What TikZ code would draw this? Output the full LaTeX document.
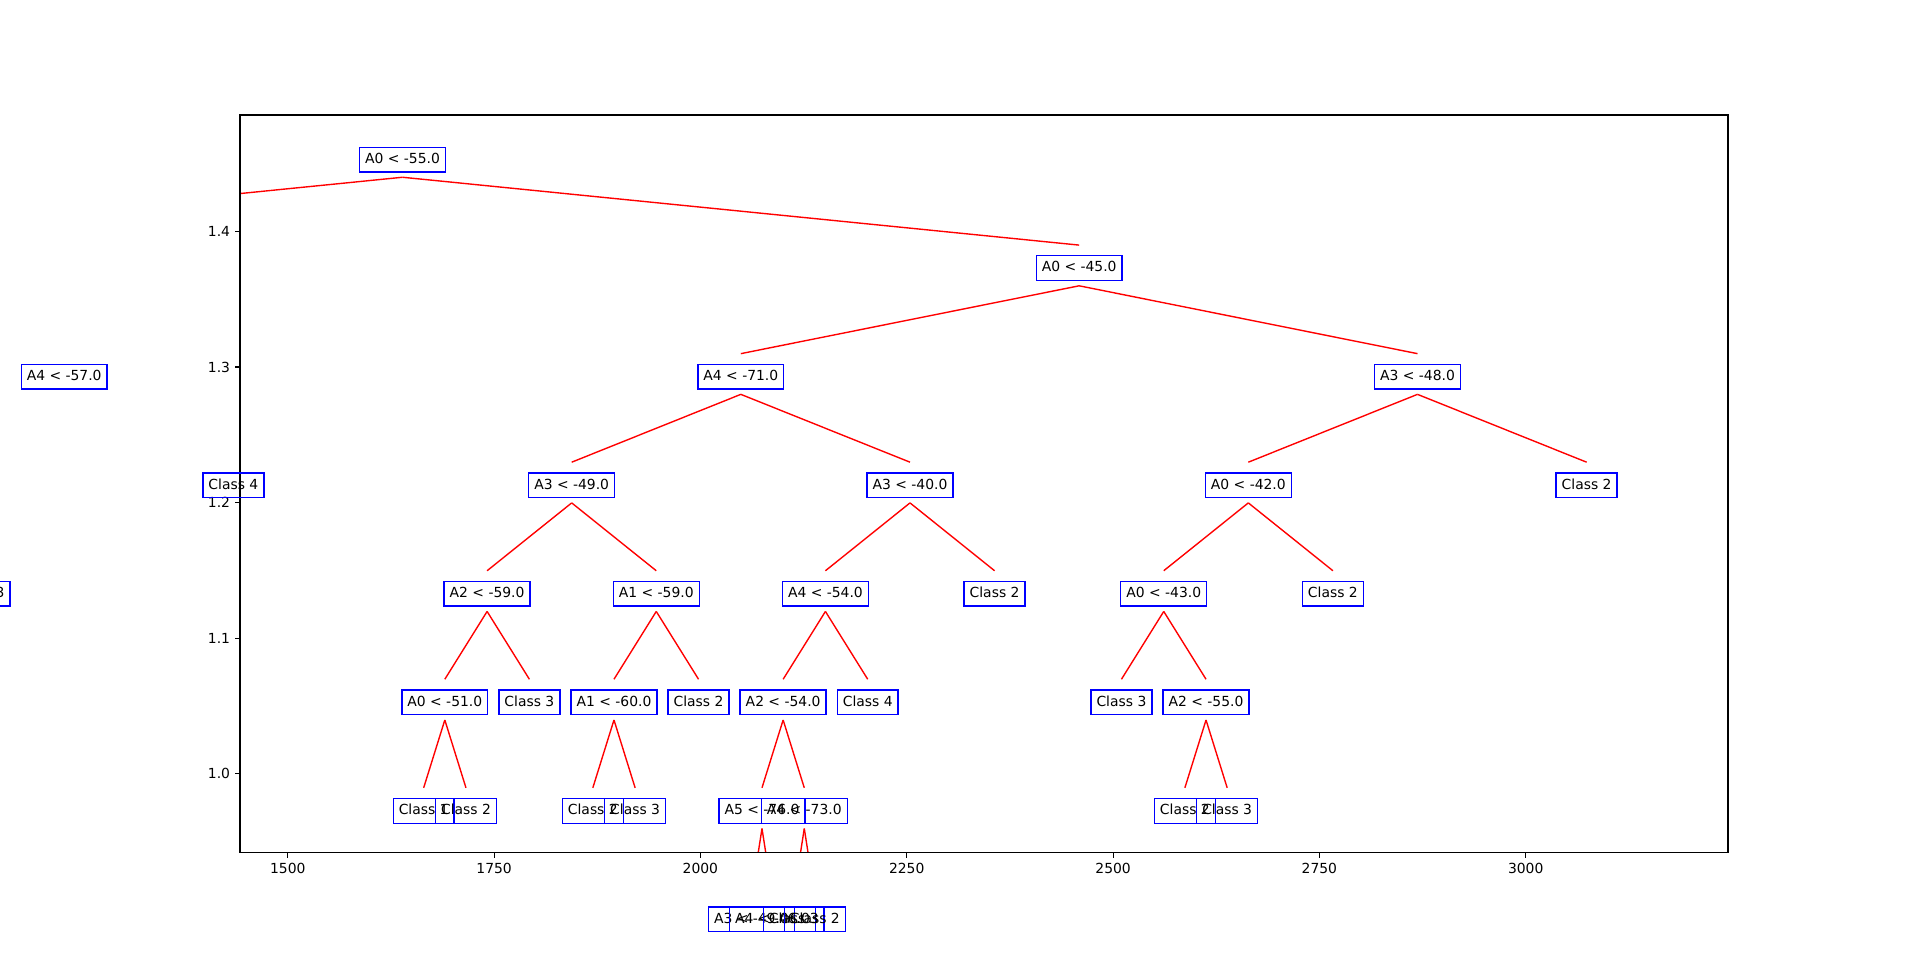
\documentclass[tikz,border=0pt]{standalone}
\usepackage{fontspec}
\setmainfont{DejaVu Sans}
\begin{document}
\begin{tikzpicture}[x=0.01in,y=-0.01in,
  lbl/.style={draw=blue, line width=1bp, font=\fontsize{10bp}{12bp}\selectfont,
    inner xsep=4bp, inner ysep=3bp, text height=8.6bp, text depth=3.2bp},
  edge/.style={draw=red, line width=1bp},
  axisline/.style={draw=black, line width=0.8bp},
  ticklbl/.style={font=\fontsize{10bp}{12bp}\selectfont, inner sep=0pt}]
\clip (0,0) rectangle (1920,958);
\fill[white] (0,0) rectangle (1920,958);

\begin{scope}[x=0.008253in, y=13.56in, shift={(-9.502in,-21.298in)}]
% apex coordinates
\coordinate (a0) at (1638.4,1.44);
\coordinate (aL) at (819.2,1.36);
\coordinate (a1) at (2457.6,1.36);
\coordinate (a2b) at (2048,1.28);
\coordinate (a2c) at (2867.2,1.28);
\coordinate (a3b) at (1843.2,1.20);
\coordinate (a3c) at (2252.8,1.20);
\coordinate (a3d) at (2662.4,1.20);
\coordinate (a4b) at (1740.8,1.12);
\coordinate (a4c) at (1945.6,1.12);
\coordinate (a4d) at (2150.4,1.12);
\coordinate (a4f) at (2560,1.12);
\coordinate (a5a) at (1689.6,1.04);
\coordinate (a5c) at (1894.4,1.04);
\coordinate (a5e) at (2099.2,1.04);
\coordinate (a5h) at (2611.2,1.04);
\coordinate (a6e) at (2073.6,0.96);
\coordinate (a6f) at (2124.8,0.96);
% edge end coordinates
\coordinate (eL) at (819.2,1.39);
\coordinate (e1) at (2457.6,1.39);
\coordinate (e2b) at (2048,1.31);
\coordinate (e2c) at (2867.2,1.31);
\coordinate (e3b) at (1843.2,1.23);
\coordinate (e3c) at (2252.8,1.23);
\coordinate (e3d) at (2662.4,1.23);
\coordinate (e3e) at (3072,1.23);
\coordinate (e4b) at (1740.8,1.15);
\coordinate (e4c) at (1945.6,1.15);
\coordinate (e4d) at (2150.4,1.15);
\coordinate (e4e) at (2355.2,1.15);
\coordinate (e4f) at (2560,1.15);
\coordinate (e4g) at (2764.8,1.15);
\coordinate (e5a) at (1689.6,1.07);
\coordinate (e5b) at (1792,1.07);
\coordinate (e5c) at (1894.4,1.07);
\coordinate (e5d) at (1996.8,1.07);
\coordinate (e5e) at (2099.2,1.07);
\coordinate (e5f) at (2201.6,1.07);
\coordinate (e5g) at (2508.8,1.07);
\coordinate (e5h) at (2611.2,1.07);
\coordinate (e6a) at (1664,0.99);
\coordinate (e6b) at (1715.2,0.99);
\coordinate (e6c) at (1868.8,0.99);
\coordinate (e6d) at (1920,0.99);
\coordinate (e6e) at (2073.6,0.99);
\coordinate (e6f) at (2124.8,0.99);
\coordinate (e6g) at (2585.6,0.99);
\coordinate (e6h) at (2636.8,0.99);
\coordinate (e7a) at (2060.8,0.91);
\coordinate (e7b) at (2086.4,0.91);
\coordinate (e7c) at (2112,0.91);
\coordinate (e7d) at (2137.6,0.91);
\end{scope}

% edges, clipped to the axes
\begin{scope}
\clip (240,115) rectangle (1728,852.6);
\draw[edge] (a0) -- (eL);
\draw[edge] (a0) -- (e1);
\draw[edge] (a1) -- (e2b);
\draw[edge] (a1) -- (e2c);
\draw[edge] (a2b) -- (e3b);
\draw[edge] (a2b) -- (e3c);
\draw[edge] (a2c) -- (e3d);
\draw[edge] (a2c) -- (e3e);
\draw[edge] (a3b) -- (e4b);
\draw[edge] (a3b) -- (e4c);
\draw[edge] (a3c) -- (e4d);
\draw[edge] (a3c) -- (e4e);
\draw[edge] (a3d) -- (e4f);
\draw[edge] (a3d) -- (e4g);
\draw[edge] (a4b) -- (e5a);
\draw[edge] (a4b) -- (e5b);
\draw[edge] (a4c) -- (e5c);
\draw[edge] (a4c) -- (e5d);
\draw[edge] (a4d) -- (e5e);
\draw[edge] (a4d) -- (e5f);
\draw[edge] (a4f) -- (e5g);
\draw[edge] (a4f) -- (e5h);
\draw[edge] (a5a) -- (e6a);
\draw[edge] (a5a) -- (e6b);
\draw[edge] (a5c) -- (e6c);
\draw[edge] (a5c) -- (e6d);
\draw[edge] (a5e) -- (e6e);
\draw[edge] (a5e) -- (e6f);
\draw[edge] (a5h) -- (e6g);
\draw[edge] (a5h) -- (e6h);
\draw[edge] (a6e) -- (e7a);
\draw[edge] (a6e) -- (e7b);
\draw[edge] (a6f) -- (e7c);
\draw[edge] (a6f) -- (e7d);
\end{scope}

% axes frame and ticks
\draw[axisline] (240,115) rectangle (1728,852.6);
\foreach \v/\p in {1500/287.8, 1750/494.1, 2000/700.4, 2250/906.7, 2500/1113.1, 2750/1319.4, 3000/1525.7}{
  \draw[axisline] (\p,852.6) -- (\p,857.5);
  \node[ticklbl, anchor=north] at (\p,862.4) {\v};
}
\foreach \v/\p in {1.0/773.9, 1.1/638.3, 1.2/502.6, 1.3/367.0, 1.4/231.4}{
  \draw[axisline] (240,\p) -- (235.1,\p);
  \node[ticklbl, anchor=east] at (230.3,\p) {\v};
}

% labels
\begin{scope}[x=0.008253in, y=13.56in, shift={(-9.502in,-21.298in)}]
\node[lbl] (n0) at (1638.4,1.453) {A0 < -55.0};
\node[lbl] (n1) at (2457.6,1.373) {A0 < -45.0};
\node[lbl] (n2a) at (1228.8,1.293) {A4 < -57.0};
\node[lbl] (n2b) at (2048,1.293) {A4 < -71.0};
\node[lbl] (n2c) at (2867.2,1.293) {A3 < -48.0};
\node[lbl] (n3a) at (1433.6,1.213) {Class 4};
\node[lbl] (n3b) at (1843.2,1.213) {A3 < -49.0};
\node[lbl] (n3c) at (2252.8,1.213) {A3 < -40.0};
\node[lbl] (n3d) at (2662.4,1.213) {A0 < -42.0};
\node[lbl] (n3e) at (3072,1.213) {Class 2};
\node[lbl] (n4a) at (1126.4,1.133) {Class 3};
\node[lbl] (n4b) at (1740.8,1.133) {A2 < -59.0};
\node[lbl] (n4c) at (1945.6,1.133) {A1 < -59.0};
\node[lbl] (n4d) at (2150.4,1.133) {A4 < -54.0};
\node[lbl] (n4e) at (2355.2,1.133) {Class 2};
\node[lbl] (n4f) at (2560,1.133) {A0 < -43.0};
\node[lbl] (n4g) at (2764.8,1.133) {Class 2};
\node[lbl] (n5a) at (1689.6,1.053) {A0 < -51.0};
\node[lbl] (n5b) at (1792,1.053) {Class 3};
\node[lbl] (n5c) at (1894.4,1.053) {A1 < -60.0};
\node[lbl] (n5d) at (1996.8,1.053) {Class 2};
\node[lbl] (n5e) at (2099.2,1.053) {A2 < -54.0};
\node[lbl] (n5f) at (2201.6,1.053) {Class 4};
\node[lbl] (n5g) at (2508.8,1.053) {Class 3};
\node[lbl] (n5h) at (2611.2,1.053) {A2 < -55.0};
\node[lbl] (n6a) at (1664,0.973) {Class 1};
\node[lbl] (n6b) at (1715.2,0.973) {Class 2};
\node[lbl] (n6c) at (1868.8,0.973) {Class 2};
\node[lbl] (n6d) at (1920,0.973) {Class 3};
\node[lbl] (n6e) at (2073.6,0.973) {A5 < -76.0};
\node[lbl] (n6f) at (2124.8,0.973) {A4 < -73.0};
\node[lbl] (n6g) at (2585.6,0.973) {Class 2};
\node[lbl] (n6h) at (2636.8,0.973) {Class 3};
\node[lbl] (n7a) at (2060.8,0.893) {A3 < -49.0};
\node[lbl] (n7b) at (2086.4,0.893) {A4 < -46.0};
\node[lbl] (n7c) at (2112,0.893) {Class 3};
\node[lbl] (n7d) at (2137.6,0.893) {Class 2};
\end{scope}
\end{tikzpicture}
\end{document}
